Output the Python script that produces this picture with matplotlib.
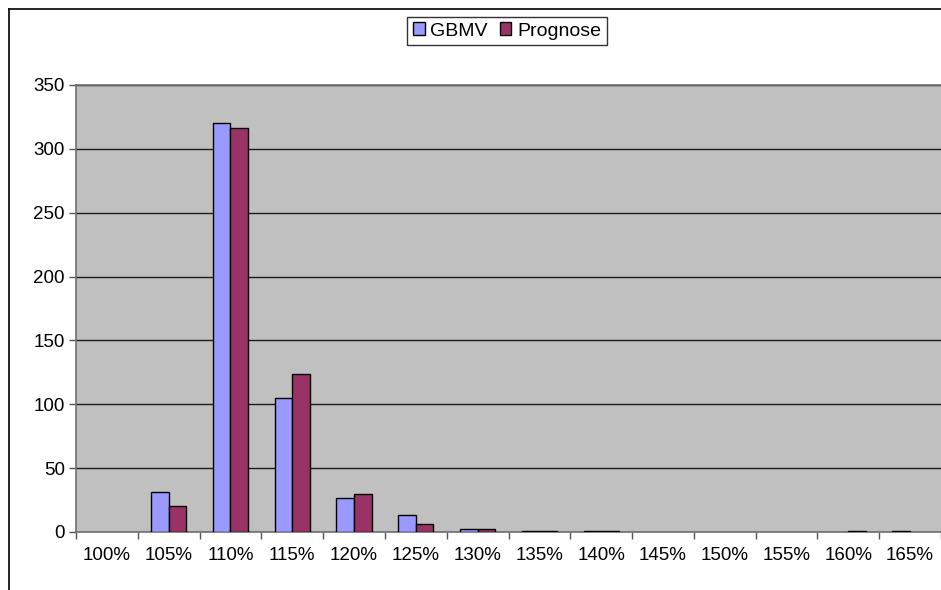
import numpy as np
import matplotlib
matplotlib.use("Agg")
import matplotlib.pyplot as plt

plt.rcParams['font.family'] = ['Liberation Sans', 'DejaVu Sans']

categories = ["100%", "105%", "110%", "115%", "120%", "125%", "130%",
              "135%", "140%", "145%", "150%", "155%", "160%", "165%"]
gbmv     = [0, 31, 320, 105, 27, 13, 2, 1, 1, 0, 0, 0, 0, 1]
prognose = [0, 20, 316, 124, 30, 6, 2, 1, 1, 0, 0, 0, 1, 0]

W, H = 941, 590
fig = plt.figure(figsize=(W / 100, H / 100), dpi=100)
fig.patch.set_facecolor('white')

# chart frame (only left and top edges fall inside the canvas)
fig.add_artist(plt.Line2D([8.5 / W, 8.5 / W], [0, 1 - 8.5 / H], color='black', lw=1.2,
                          transform=fig.transFigure))
fig.add_artist(plt.Line2D([8.5 / W, 1], [1 - 8.5 / H, 1 - 8.5 / H], color='black', lw=1.2,
                          transform=fig.transFigure))

left, right, top, bottom = 76, 941, 85, 532
ax = fig.add_axes([left / W, 1 - bottom / H, (right - left) / W, (bottom - top) / H])
ax.set_facecolor('#c0c0c0')

x = np.arange(len(categories))
bw = 1 / 3.5


def draw_series(vals, offset, color, label):
    vals = np.asarray(vals, dtype=float)
    keep = vals > 0  # empty classes get no bar at all
    ax.bar(x[keep] + offset, vals[keep], bw, color=color, edgecolor='black',
           lw=1.0, label=label, zorder=3)


draw_series(gbmv, -bw / 2, '#9999ff', 'GBMV')
draw_series(prognose, bw / 2, '#993366', 'Prognose')

ax.set_xlim(-0.5, len(categories) - 0.5)
ax.set_ylim(0, 350)
ax.set_yticks(np.arange(0, 351, 50))
ax.yaxis.grid(True, color='#1a1a1a', lw=1.0, zorder=1)
ax.set_axisbelow(True)

ax.set_xticks(x)
ax.set_xticklabels(categories)
ax.set_xticks(np.arange(-0.5, len(categories) - 0.4, 1), minor=True)
ax.tick_params(axis='x', which='major', length=0, pad=11, labelsize=13.5)
ax.tick_params(axis='x', which='minor', length=5, color='#555555', width=1)
ax.tick_params(axis='y', length=5, color='#555555', width=1, labelsize=13.5, pad=3)

for s in ['left', 'bottom', 'top']:
    ax.spines[s].set_color('#707070')
    ax.spines[s].set_linewidth(1.2)
ax.spines['right'].set_visible(False)

leg = fig.legend(loc='center', bbox_to_anchor=(507 / W, 1 - 31 / H), ncol=2,
                 frameon=True, fancybox=False, fontsize=14, handlelength=0.6,
                 handleheight=0.6, handletextpad=0.3, columnspacing=0.6,
                 borderpad=0.3)
leg.get_frame().set_edgecolor('black')
leg.get_frame().set_linewidth(1.0)

fig.savefig('out.png', dpi=100)
